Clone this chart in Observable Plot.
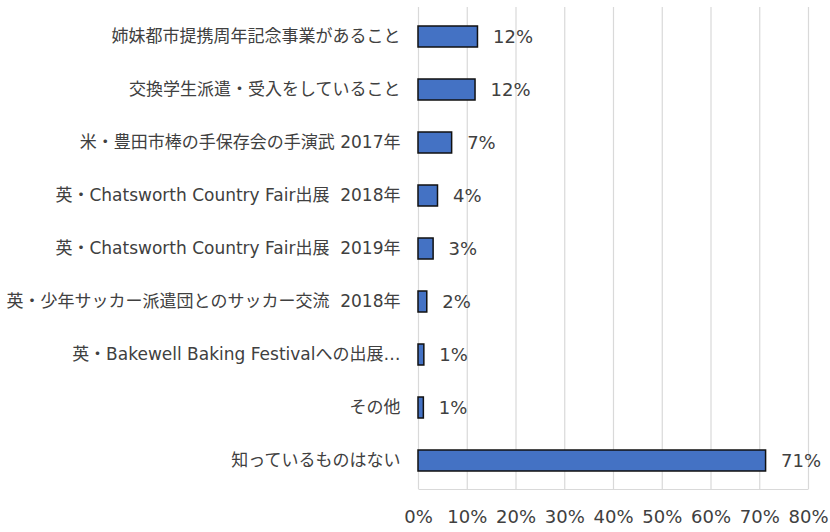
<!DOCTYPE html>
<html>
<head>
<meta charset="utf-8">
<script src="https://cdn.jsdelivr.net/npm/d3@7"></script>
<script src="https://cdn.jsdelivr.net/npm/@observablehq/plot@0.6"></script>
<style>
  html, body { margin: 0; padding: 0; background: #fff; }
  svg text { white-space: pre; }
</style>
</head>
<body>
<div id="chart"></div>
<script>
const categories = [
  "姉妹都市提携周年記念事業があること",
  "交換学生派遣・受入をしていること",
  "米・豊田市棒の手保存会の手演武 2017年",
  "英・Chatsworth Country Fair出展  2018年",
  "英・Chatsworth Country Fair出展  2019年",
  "英・少年サッカー派遣団とのサッカー交流  2018年",
  "英・Bakewell Baking Festivalへの出展…",
  "その他",
  "知っているものはない"
];
const values = [12.2, 11.7, 6.9, 4.0, 3.1, 1.8, 1.2, 1.1, 71.3];
const valueLabels = ["12%", "12%", "7%", "4%", "3%", "2%", "1%", "1%", "71%"];
const xTicks = [0, 10, 20, 30, 40, 50, 60, 70, 80];

const data = categories.map((c, i) => ({category: c, value: values[i], label: valueLabels[i]}));

const textColor = "#404040";
const font = "'DejaVu Sans', 'Noto Sans CJK JP', sans-serif";

const W = 830, H = 532, mL = 418, mR = 22, mT = 7, mB = 43;
const fw = W - mL - mR, fh = H - mT - mB;

const chart = Plot.plot({
  width: W,
  height: H,
  marginLeft: mL,
  marginRight: mR,
  marginTop: mT,
  marginBottom: mB,
  style: {fontFamily: font, color: textColor, background: "#fff"},
  x: {domain: [0, 80], ticks: xTicks, tickFormat: d => d + "%"},
  y: {domain: categories, paddingInner: 0.61, paddingOuter: 0.3},
  marks: [
    Plot.gridX(xTicks, {stroke: "#d9d9d9", strokeOpacity: 1, strokeWidth: 1.2}),
    // bottom axis line only (dash pattern shows only the bottom edge of the frame)
    Plot.frame({stroke: "#d9d9d9", strokeWidth: 1.2, strokeDasharray: `0 ${fw + fh} ${fw} ${fh}`}),
    Plot.barX(data, {x: "value", y: "category", fill: "#4472C4", stroke: "#111", strokeWidth: 1.5}),
    Plot.text(data, {x: "value", y: "category", text: "label", textAnchor: "start", dx: 15, fontSize: 18, fill: textColor}),
    Plot.axisX(xTicks, {tickSize: 0, tickPadding: 21, fontSize: 18, label: null, fill: textColor, tickFormat: d => d + "%"}),
    Plot.axisY({tickSize: 0, tickPadding: 18, fontSize: 17, label: null, fill: textColor})
  ]
});
document.getElementById("chart").appendChild(chart);
</script>
</body>
</html>
